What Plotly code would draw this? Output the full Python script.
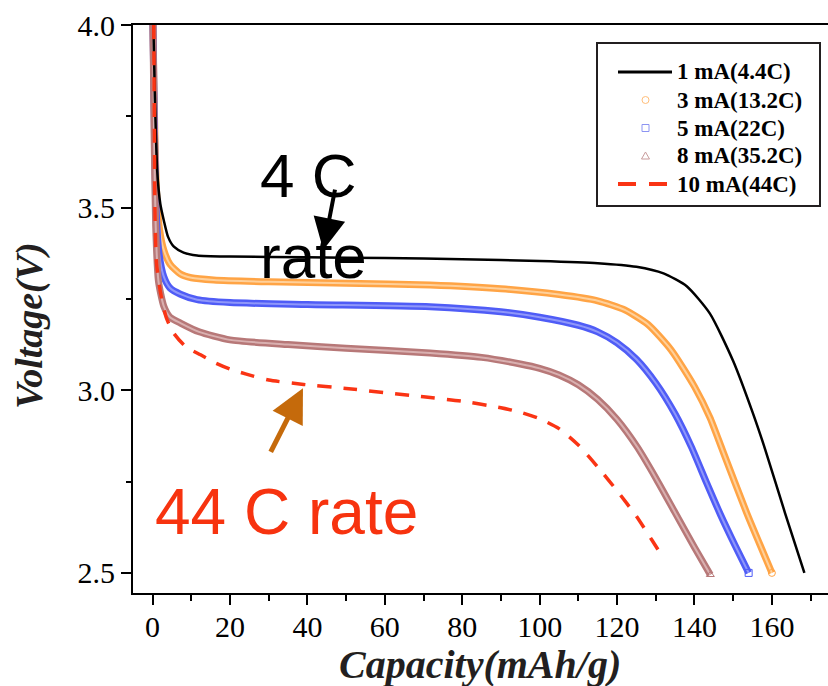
import plotly.graph_objects as go

# ---------------- data ----------------
cap_1mA = [0.2, 0.6, 1.2, 2.0, 2.9, 4.0, 5.5, 8, 11.5, 20, 40, 60, 80, 100, 115, 125, 132, 138, 144, 150, 155, 158.3, 163.4, 168.4]
v_1mA = [4.0, 3.8, 3.6, 3.51, 3.465, 3.42, 3.393, 3.377, 3.369, 3.366, 3.364, 3.362, 3.359, 3.354, 3.348, 3.338, 3.32, 3.285, 3.21, 3.08, 2.94, 2.837, 2.664, 2.5]

cap_3mA = [0.1, 0.5, 1.0, 1.8, 2.9, 4.5, 7.2, 10, 15.8, 30, 50, 71.7, 90, 105, 115, 122, 128, 134, 140, 144, 147.2, 153.5, 160]
v_3mA = [4.0, 3.75, 3.55, 3.44, 3.384, 3.345, 3.318, 3.308, 3.302, 3.297, 3.293, 3.288, 3.278, 3.262, 3.245, 3.22, 3.18, 3.11, 3.01, 2.925, 2.837, 2.664, 2.5]

cap_5mA = [0.1, 0.5, 0.9, 1.6, 2.9, 4.5, 7.2, 11.5, 20, 40, 71.7, 90, 100, 110, 115, 120, 125, 130, 135, 139.2, 143, 146.7, 150.5, 154]
v_5mA = [4.0, 3.7, 3.5, 3.38, 3.311, 3.28, 3.263, 3.248, 3.24, 3.235, 3.229, 3.215, 3.2, 3.178, 3.16, 3.13, 3.085, 3.02, 2.935, 2.845, 2.75, 2.66, 2.575, 2.5]

cap_8mA = [0.1, 0.4, 0.8, 1.5, 2.9, 4.5, 7.2, 12, 20, 35, 50, 71.7, 85, 95, 100, 105, 110, 115, 120, 125.2, 130, 135, 140, 144.1]
v_8mA = [4.0, 3.7, 3.45, 3.3, 3.23, 3.2, 3.184, 3.16, 3.138, 3.125, 3.115, 3.102, 3.09, 3.072, 3.06, 3.042, 3.015, 2.975, 2.92, 2.845, 2.76, 2.665, 2.57, 2.495]

cap_10mA = [0.3, 0.45, 0.6, 1.0, 2.0, 3.5, 5.4, 8.5, 12.4, 16.2, 20, 24, 30, 39, 50, 70, 80, 90, 95, 100, 105, 110, 115, 120, 125, 129, 132]
v_10mA = [4.0, 3.75, 3.5, 3.35, 3.27, 3.2, 3.157, 3.12, 3.097, 3.075, 3.058, 3.045, 3.028, 3.016, 3.005, 2.982, 2.97, 2.952, 2.94, 2.922, 2.895, 2.85, 2.79, 2.725, 2.655, 2.59, 2.54]

series_names = ["1 mA(4.4C)", "3 mA(13.2C)", "5 mA(22C)", "8 mA(35.2C)", "10 mA(44C)"]
x_ticks = [0, 20, 40, 60, 80, 100, 120, 140, 160]
y_ticks = [2.5, 3.0, 3.5, 4.0]
y_ticklabels = ["2.5", "3.0", "3.5", "4.0"]

# ---------------- layout geometry (pixels) ----------------
W, H = 828, 686
ML, MR, MT, MB = 133, 0, 25, 93
PW, PH = W - ML - MR, H - MT - MB


def px(xp):
    return (xp - ML) / PW


def py(yp):
    return (H - MB - yp) / PH


fig = go.Figure()

bands = [
    (cap_3mA, v_3mA, "#FFA445", "#FFD09A", "circle-open", "#FFBE7A"),
    (cap_5mA, v_5mA, "#4F5CF6", "#8F97FA", "square-open", "#8C94F2"),
    (cap_8mA, v_8mA, "#B77878", "#D9B0B0", "triangle-up-open", "#C99C9C"),
]

for xs, ys, col, light, sym, pale in bands:
    fig.add_trace(go.Scatter(x=xs, y=ys, mode="lines", showlegend=False, hoverinfo="skip",
                             line=dict(color=col, width=7, shape="spline", smoothing=0.6)))
    fig.add_trace(go.Scatter(x=xs, y=ys, mode="lines", showlegend=False, hoverinfo="skip",
                             line=dict(color=light, width=2, shape="spline", smoothing=0.6)))

fig.add_trace(go.Scatter(x=cap_1mA, y=v_1mA, mode="lines", showlegend=False,
                         line=dict(color="black", width=2.5, shape="spline", smoothing=0.6)))

for xs, ys, col, light, sym, pale in bands:
    fig.add_trace(go.Scatter(x=[xs[-1]], y=[ys[-1]], mode="markers", showlegend=False,
                             marker=dict(symbol=sym, size=7, color=col, line=dict(width=1, color=col))))

fig.add_trace(go.Scatter(x=cap_10mA, y=v_10mA, mode="lines", showlegend=False,
                         line=dict(color="#FA3414", width=3.5, dash="14px,12px", shape="spline", smoothing=0.6)))

# ---------------- legend (drawn manually) ----------------
shapes = []
shapes.append(dict(type="rect", xref="paper", yref="paper", x0=px(597), x1=px(820), y0=py(43), y1=py(206),
                   line=dict(color="#231F20", width=2), fillcolor="white", layer="above"))
rows = [72, 100, 128, 156, 184]
shapes.append(dict(type="line", xref="paper", yref="paper", x0=px(618), x1=px(672), y0=py(rows[0]), y1=py(rows[0]),
                   line=dict(color="black", width=3), layer="above"))
shapes.append(dict(type="circle", xref="paper", yref="paper", x0=px(642), x1=px(649), y0=py(rows[1] - 3.5),
                   y1=py(rows[1] + 3.5), line=dict(color=bands[0][5], width=1), fillcolor="white", layer="above"))
shapes.append(dict(type="rect", xref="paper", yref="paper", x0=px(642), x1=px(649), y0=py(rows[2] - 3.5),
                   y1=py(rows[2] + 3.5), line=dict(color=bands[1][5], width=1), fillcolor="white", layer="above"))
tri = "M {:.5f},{:.5f} L {:.5f},{:.5f} L {:.5f},{:.5f} Z".format(
    px(645.5), py(rows[3] - 4), px(641.5), py(rows[3] + 3), px(649.5), py(rows[3] + 3))
shapes.append(dict(type="path", xref="paper", yref="paper", path=tri,
                   line=dict(color=bands[2][5], width=1), fillcolor="white", layer="above"))
for a, b in [(618, 636), (649, 667)]:
    shapes.append(dict(type="line", xref="paper", yref="paper", x0=px(a), x1=px(b), y0=py(rows[4]), y1=py(rows[4]),
                       line=dict(color="#FA3414", width=4), layer="above"))

for name, r in zip(series_names, rows):
    fig.add_annotation(x=px(675), y=py(r), xref="paper", yref="paper", text="<b>" + name + "</b>",
                       showarrow=False, xanchor="left", yanchor="middle",
                       font=dict(family="Liberation Serif, Times New Roman", size=23, color="black"))

# ---------------- text annotations & arrows ----------------
fig.add_annotation(x=27.3, y=3.476, xref="x", yref="y", text="4 C<br>rate", showarrow=False,
                   xanchor="left", yanchor="middle", align="left",
                   font=dict(family="Liberation Sans, Arial", size=62, color="black"))
fig.add_annotation(x=44.1, y=3.384, ax=12, ay=-62, xref="x", yref="y", text="", showarrow=True,
                   arrowhead=2, arrowsize=1.6, arrowwidth=4, arrowcolor="black")
fig.add_annotation(x=38.85, y=3.0055, ax=-33, ay=65, xref="x", yref="y", text="", showarrow=True,
                   arrowhead=2, arrowsize=1.35, arrowwidth=5, arrowcolor="#C56A0B")
fig.add_annotation(x=0.0, y=2.667, xref="x", yref="y", text="44 C rate", showarrow=False,
                   xanchor="left", yanchor="middle",
                   font=dict(family="Liberation Sans, Arial", size=64, color="#F7330F"))

# axis titles
fig.add_annotation(x=px(29), y=py(326), xref="paper", yref="paper", text="<b><i>Voltage(V)</i></b>",
                   showarrow=False, textangle=-90, xanchor="center", yanchor="middle",
                   font=dict(family="Liberation Serif, Times New Roman", size=38, color="#231F20"))
fig.add_annotation(x=px(480), y=py(664), xref="paper", yref="paper", text="<b><i>Capacity(mAh/g)</i></b>",
                   showarrow=False, xanchor="center", yanchor="middle",
                   font=dict(family="Liberation Serif, Times New Roman", size=40, color="#231F20"))

fig.update_layout(
    width=W, height=H,
    margin=dict(l=ML, r=MR, t=MT, b=MB),
    plot_bgcolor="white", paper_bgcolor="white",
    showlegend=False,
    shapes=shapes,
    xaxis=dict(range=[-5.06, 174.5], tickvals=x_ticks, ticks="outside", ticklen=10, tickwidth=2,
               tickcolor="black", showline=True, linewidth=2, linecolor="black", mirror=True,
               showgrid=False, zeroline=False, ticklabelstandoff=-4,
               tickfont=dict(family="Liberation Serif, Times New Roman", size=30, color="black"),
               minor=dict(dtick=10, tick0=0, ticks="outside", ticklen=6, tickwidth=2, tickcolor="black")),
    yaxis=dict(range=[2.445, 4.0], tickvals=y_ticks, ticktext=y_ticklabels, ticks="outside", ticklen=10,
               tickwidth=2, tickcolor="black", showline=True, linewidth=2, linecolor="black", mirror=False,
               showgrid=False, zeroline=False,
               tickfont=dict(family="Liberation Serif, Times New Roman", size=30, color="black"),
               minor=dict(dtick=0.25, tick0=2.5, ticks="outside", ticklen=5, tickwidth=2, tickcolor="black")),
)

fig.write_html("out.html", config={"displayModeBar": False},
               post_script="document.body.style.margin='0';")
